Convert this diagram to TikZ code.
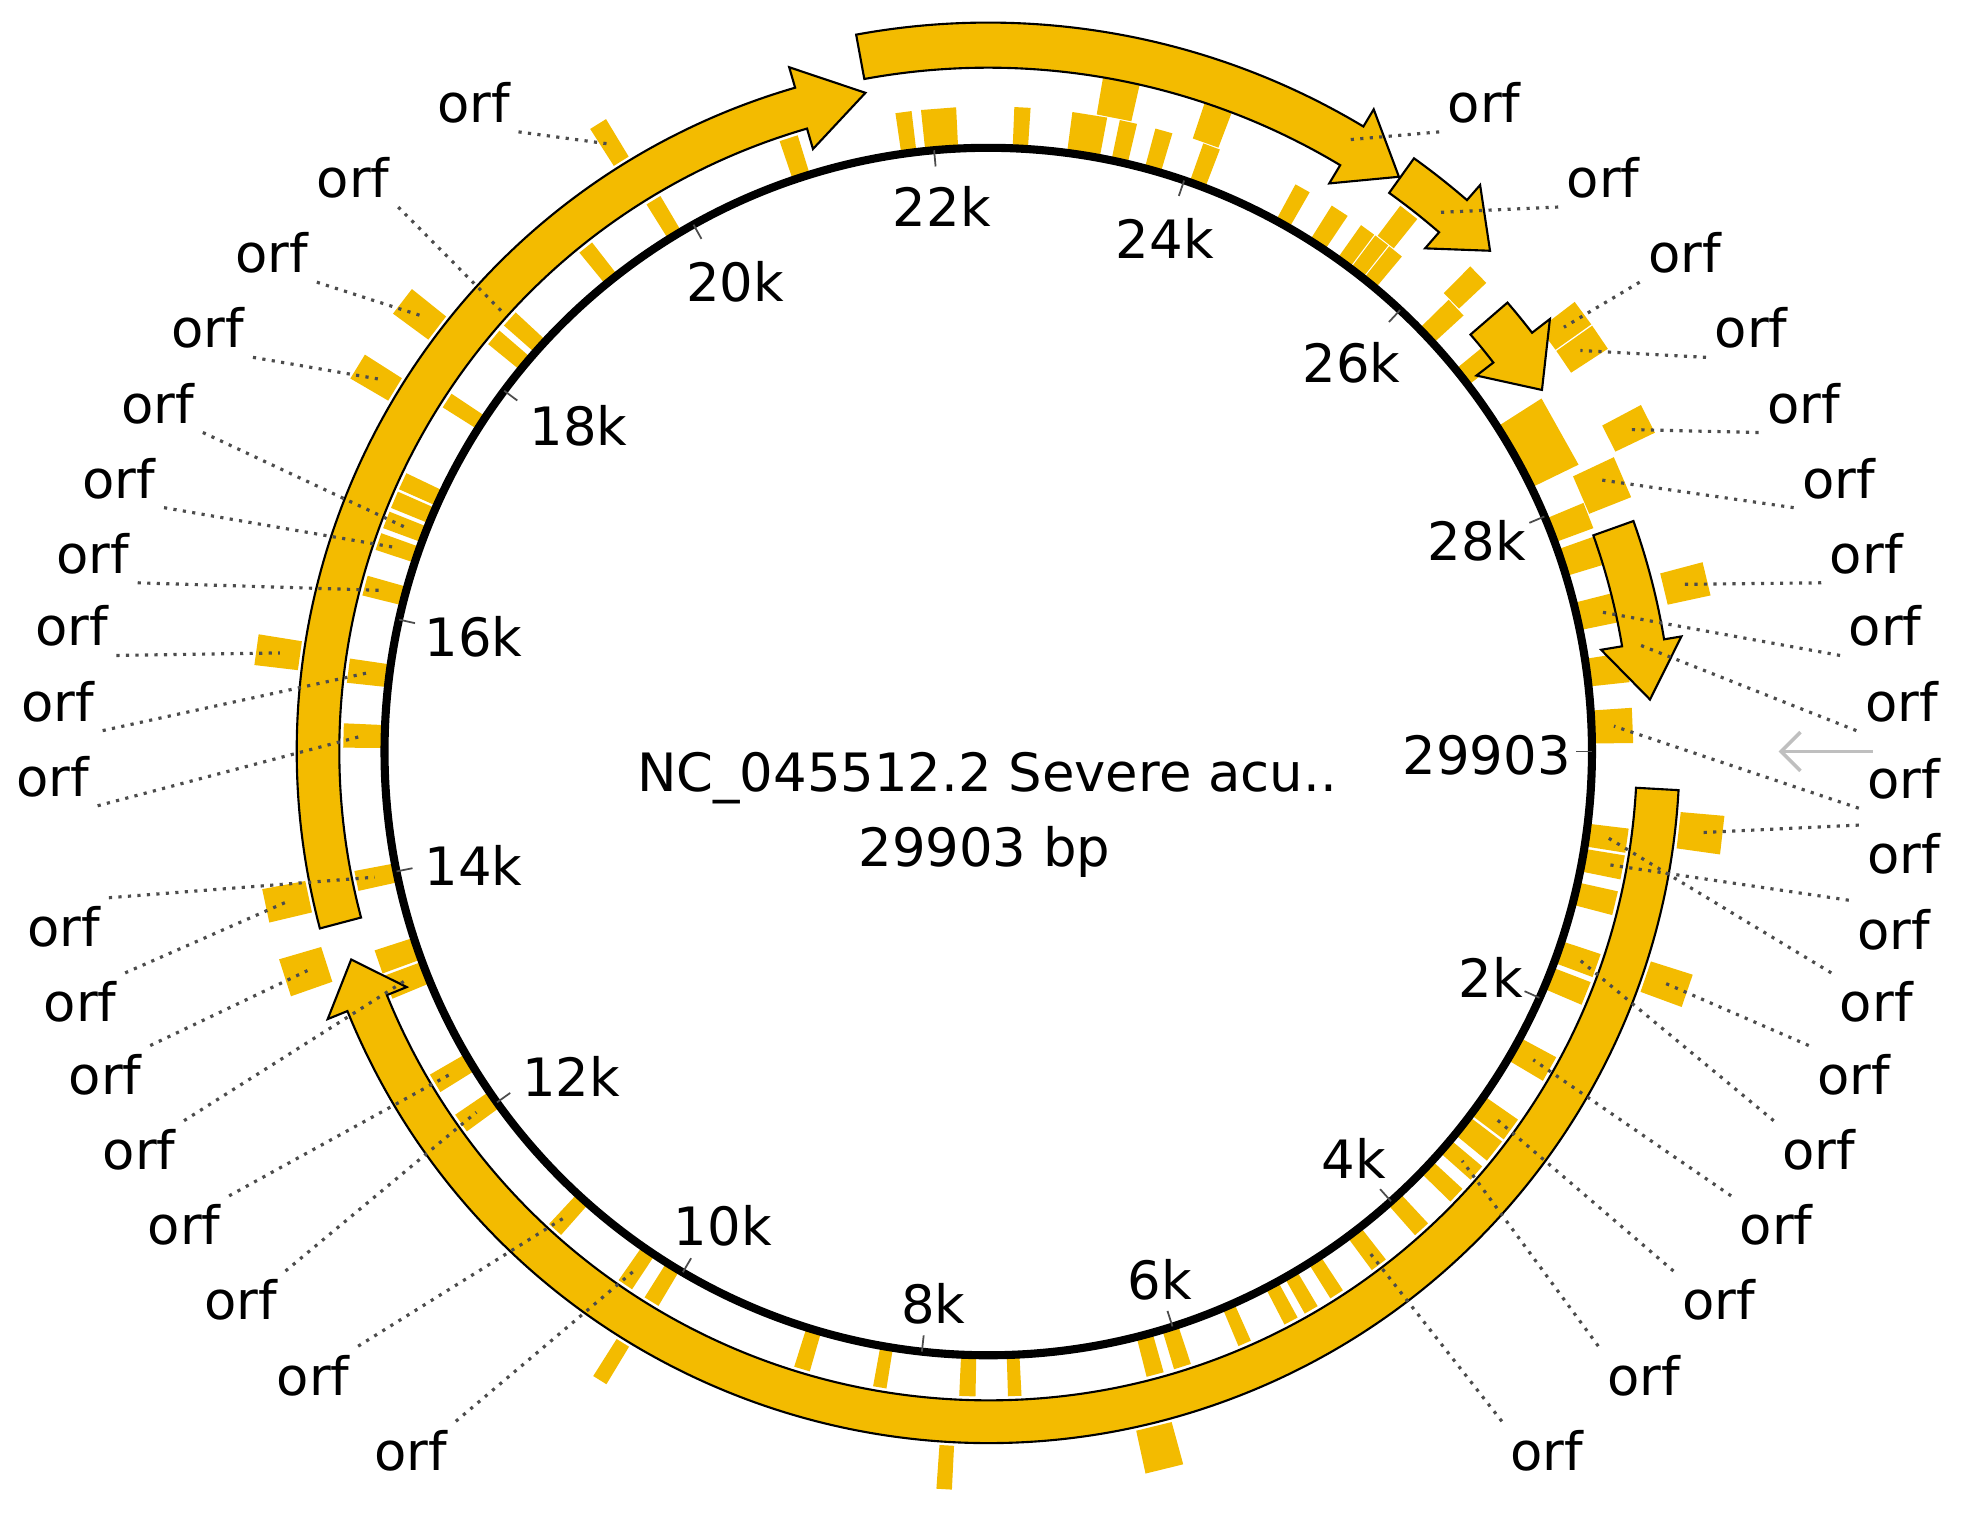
\documentclass[tikz,border=0pt]{standalone}
\usepackage{fontspec}
\setmainfont{DejaVu Sans}
\usepackage{tikz}
\usetikzlibrary{arrows.meta}

\definecolor{orfgold}{RGB}{243,187,0}
\newcommand{\mapfont}{\fontsize{15}{18}\selectfont}

% gene arrow: tail, head base, tip (kb); inner, outer, head inner, head outer, tip radius
\newcommand{\genearrow}[8]{%
  \filldraw[gene] ({-12.0389*#1}:#4) arc[start angle={-12.0389*#1}, end angle={-12.0389*#2}, radius=#4]
    -- ({-12.0389*#2}:#6) -- ({-12.0389*#3}:#8) -- ({-12.0389*#2}:#7) -- ({-12.0389*#2}:#5)
    arc[start angle={-12.0389*#2}, end angle={-12.0389*#1}, radius=#5] -- cycle;}

\tikzset{
  gene/.style={fill=orfgold, draw=black, line width=0.6pt},
  orfbox/.style={fill=orfgold},
  backbone/.style={draw=black, line width=2.3pt},
  tickmark/.style={draw=black!70, line width=0.5pt},
  ticklabel/.style={font=\mapfont, inner sep=0pt},
  orflabel/.style={font=\mapfont, inner sep=0.08cm},
  leader/.style={draw=black!70, line width=0.9pt, dash pattern=on 0.9pt off 1.8pt},
  pointer/.style={draw=black!25, line width=1pt, -{Straight Barb[length=5.5pt,width=11pt]}}
}

\begin{document}
\begin{tikzpicture}[x=0.0125cm, y=0.0125cm]
    \useasboundingbox (-789,-609) rectangle (779,600);

    % orf boxes next to the backbone
    \foreach \ps/\wdt in {0.66/0.18, 0.86/0.18, 1.13/0.18, 1.61/0.18, 1.83/0.18, 2.45/0.2,
        2.98/0.18, 3.18/0.18, 3.39/0.13, 3.61/0.13, 3.97/0.13, 4.38/0.13, 4.76/0.11, 4.98/0.11,
        5.15/0.11, 5.53/0.1, 6.02/0.13, 6.23/0.13, 7.28/0.1, 7.63/0.12, 8.28/0.1, 8.87/0.12,
        10.09/0.12, 10.32/0.12, 10.98/0.12, 12.03/0.15, 12.38/0.15, 13.17/0.18, 13.37/0.18,
        13.99/0.15, 15.07/0.18, 15.55/0.18, 16.19/0.15, 16.53/0.13, 16.70/0.13, 16.86/0.13,
        17.01/0.13, 17.69/0.12, 18.27/0.13, 18.45/0.13, 19.22/0.12, 19.83/0.12, 20.93/0.14,
        21.80/0.12, 22.06/0.26, 22.68/0.12, 23.18/0.26, 23.47/0.13, 23.74/0.13, 24.11/0.13,
        24.85/0.12, 25.17/0.14, 25.42/0.12, 25.55/0.12, 25.68/0.12, 26.29/0.16, 26.72/0.16,
        28.12/0.2, 28.39/0.22, 28.83/0.22, 29.28/0.22, 29.71/0.26}
      \fill[orfbox] ({-12.0389*(\ps-\wdt/2)}:484) -- ({-12.0389*(\ps-\wdt/2)}:515)
        -- ({-12.0389*(\ps+\wdt/2)}:515) -- ({-12.0389*(\ps+\wdt/2)}:484) -- cycle;
    \fill[orfbox] ({-12.0389*27.2}:484) -- ({-12.0389*27.2}:524)
        -- ({-12.0389*27.75}:524) -- ({-12.0389*27.75}:484) -- cycle;

    % second row
    \foreach \ps/\wdt in {23.36/0.26, 24.06/0.2, 25.58/0.15, 26.23/0.16}
      \fill[orfbox] ({-12.0389*(\ps-\wdt/2)}:516) -- ({-12.0389*(\ps-\wdt/2)}:546)
        -- ({-12.0389*(\ps+\wdt/2)}:546) -- ({-12.0389*(\ps+\wdt/2)}:516) -- cycle;
    \fill[orfbox] ({-12.0389*27.81}:516) -- ({-12.0389*27.81}:552)
        -- ({-12.0389*28.11}:552) -- ({-12.0389*28.11}:516) -- cycle;

    % outer row
    \foreach \ps/\wdt in {0.54/0.25, 1.57/0.22, 6.33/0.25, 7.76/0.1, 10.11/0.1, 13.47/0.25,
        13.95/0.22, 15.61/0.2, 17.56/0.18, 18.07/0.2, 19.78/0.12, 26.88/0.18, 27.07/0.18,
        27.68/0.2, 28.78/0.22}
      \fill[orfbox] ({-12.0389*(\ps-\wdt/2)}:555) -- ({-12.0389*(\ps-\wdt/2)}:590)
        -- ({-12.0389*(\ps+\wdt/2)}:590) -- ({-12.0389*(\ps+\wdt/2)}:555) -- cycle;

    % genes
    \genearrow{0.266}{13.12}{13.45}{518}{552}{501}{569}{535}
    \genearrow{13.72}{21.08}{21.55}{518}{552}{501}{569}{535}
    \genearrow{21.56}{25.00}{25.38}{546}{582}{529}{598}{564}
    \genearrow{25.39}{25.83}{26.17}{549}{583}{532}{599}{566}
    \genearrow{26.51}{26.78}{27.15}{509}{548}{492}{566}{528}
    \genearrow{28.27}{29.12}{29.53}{513}{547}{496}{561}{530}

    % backbone and ticks
    \draw[backbone] (0,0) circle[radius=482];
    \foreach \k in {0,2,...,28}
      \draw[tickmark] ({-12.0389*\k}:482) -- ({-12.0389*\k}:469);
    \foreach \txt/\x/\y in {22k/-37/435, 24k/141/410, 20k/-202/375, 26k/290/310, 18k/-327/260,
        28k/390/168, 16k/-411/92, 29903/398/-3, 14k/-411/-91, 2k/401/-180, 12k/-333/-259,
        4k/292/-325, 10k/-212/-379, 6k/137/-422, 8k/-44/-441}
      \node[ticklabel] (t\txt) at (\x,\y) {\txt};

    % title
    \node[ticklabel, anchor=base] (title) at (-1,-32) {NC\_045512.2 Severe acu..};
    \node[ticklabel, anchor=base] (length) at (-3,-92) {29903 bp};

    % orf labels
    \foreach \lab/\x/\y in {l1/-411/518, l2/-507/458, l3/-572/398, l4/-623/338, l5/-663/278,
        l6/-694/218, l7/-715/158, l8/-732/100, l9/-743/40, l10/-747/-20, l11/-738/-140,
        l12/-725/-200, l13/-705/-258, l14/-678/-318, l15/-642/-378, l16/-597/-438,
        l17/-539/-498, l18/-461/-558,
        r1/396/518, r2/491/458, r3/556/398, r4/609/338, r5/651/278, r6/679/218, r7/701/158,
        r8/716/100, r9/729/40, r10/731/-22, r11/731/-82, r12/723/-142, r13/709/-200,
        r14/691/-258, r15/663/-318, r16/629/-378, r17/583/-438, r18/523/-498, r19/446/-558}
      \node[orflabel] (\lab) at (\x,\y) {orf};

    % leaders
    \foreach \lab/\anc/\ps/\rr in {l1/south east/19.78/571, l2/south east/18.45/520,
        l3/south east/18.07/571, l4/south east/17.56/571, l5/south east/16.70/500,
        l6/south east/16.53/500, l7/south east/16.19/500, l8/south east/15.61/571,
        l9/south east/15.55/500, l10/south east/15.07/500, l11/north east/13.99/500,
        l12/north east/13.95/571, l13/north east/13.47/571, l14/north east/13.17/500,
        l15/north east/12.38/500, l16/north east/12.03/500, l17/north east/10.98/500,
        l18/north east/10.32/500,
        r1/south west/24.95/566, r2/south west/25.75/562, r3/south west/26.88/571,
        r4/south west/27.07/571, r5/south west/27.68/571, r6/south west/27.90/532,
        r7/south west/28.78/571, r8/south west/28.83/500, r9/south west/29.12/525,
        r10/south west/29.71/500, r11/north west/0.54/572, r12/north west/0.86/500,
        r13/north west/0.66/500, r14/north west/1.57/572, r15/north west/1.61/500,
        r16/north west/2.45/500, r17/north west/2.98/500, r18/north west/3.39/500,
        r19/north west/4.38/500}
    {
      \coordinate (e\lab) at ({-12.0389*\ps}:\rr);
      \draw[leader] (\lab.\anc) -- (e\lab);
    }

    % origin pointer
    \coordinate (ptail) at (706,0);
    \coordinate (phead) at (631,0);
    \draw[pointer] (ptail) -- (phead);
\end{tikzpicture}
\end{document}
